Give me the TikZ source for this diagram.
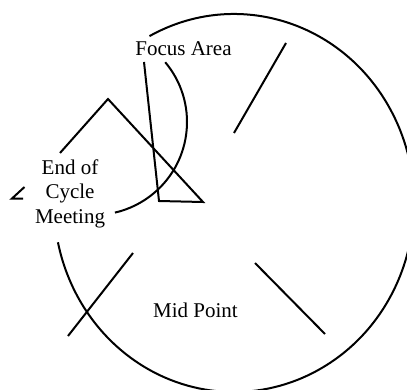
\documentclass[tikz,border=0pt]{standalone}
\usepackage{fontspec}
\setmainfont{Liberation Serif}
\begin{document}
\begin{tikzpicture}[x=1pt,y=1pt,
  stroke/.style={line width=2pt, line join=miter},
  lbl/.style={inner sep=0pt, font=\fontsize{21}{24.5}\selectfont}]
\useasboundingbox (0,0) rectangle (407,389);
\clip (0,0) rectangle (407,389);
% centres
\coordinate (bigc) at (234,186);
\coordinate (smallc) at (94,267);
% big open ellipse
\draw[stroke] ([shift={(118:180 and 189)}]bigc) arc[start angle=118, end angle=-168, x radius=180, y radius=189];
% small arc
\draw[stroke] ([shift={(40:93)}]smallc) arc[start angle=40, end angle=-77, radius=93];
% polyline
\coordinate (pa) at (144,327);
\coordinate (pb) at (159,188);
\coordinate (pc) at (203,187);
\coordinate (pd) at (108,290);
\coordinate (pe) at (60,236);
\coordinate (pf) at (24.5,202);
\coordinate (pg) at (12,190.5);
\coordinate (ph) at (23,190.5);
\draw[stroke] (pa) -- (pb) -- (pc) -- (pd) -- (pe);
\draw[stroke] (pf) -- (pg) -- (ph);
% three spokes
\coordinate (s1a) at (286,346);
\coordinate (s1b) at (234,256);
\coordinate (s2a) at (255,126);
\coordinate (s2b) at (325,55);
\coordinate (s3a) at (133,136);
\coordinate (s3b) at (68,53);
\draw[stroke] (s1a) -- (s1b);
\draw[stroke] (s2a) -- (s2b);
\draw[stroke] (s3a) -- (s3b);
% labels
\node[lbl, anchor=base] (focus) at (183.5,333) {Focus Area};
\node[lbl, anchor=center, align=center] (eoc) at (70,195.5) {End of\\Cycle\\Meeting};
\node[lbl, anchor=base] (mid) at (195.5,72) {Mid Point};
\end{tikzpicture}
\end{document}
